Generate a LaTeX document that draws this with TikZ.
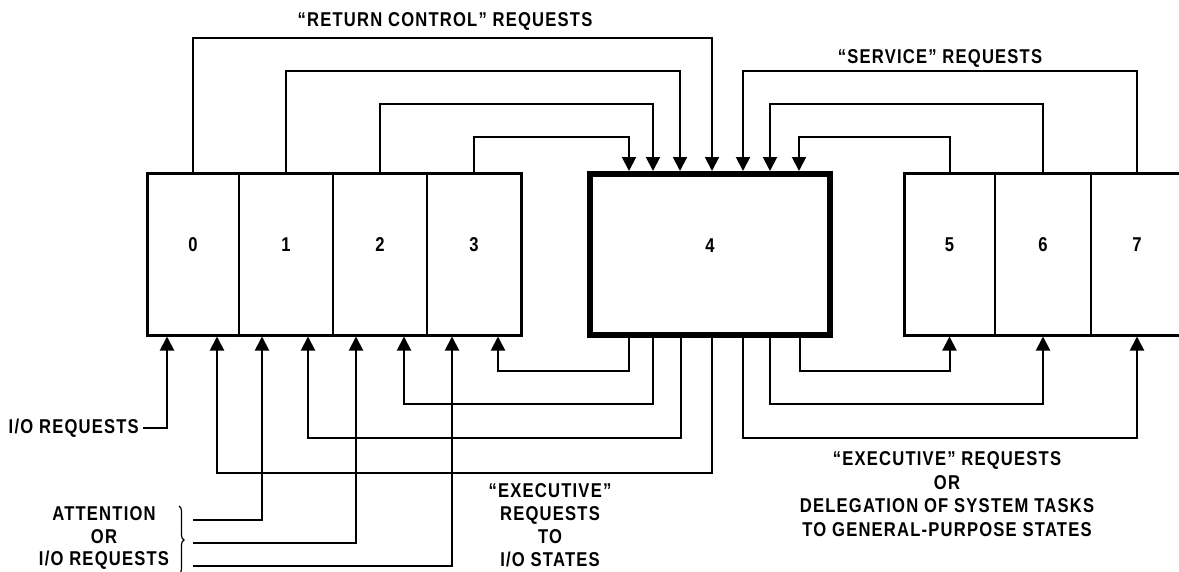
\documentclass[tikz,border=0pt]{standalone}
\usepackage{fontspec}
\setmainfont{Liberation Sans}[FakeStretch=0.83, LetterSpace=6]
\usetikzlibrary{arrows.meta,calc,decorations.pathreplacing}
\begin{document}
\begin{tikzpicture}[x=1pt,y=-1pt,
  lab/.style={font=\fontsize{20}{23.5}\selectfont\bfseries, align=center, inner sep=0pt},
  cell/.style={minimum height=162pt, inner sep=0pt, outer sep=0pt, text height=14pt, text depth=19pt,
    font=\fontsize{20}{22}\selectfont\bfseries},
  conn/.style={line width=2pt},
  arr/.style={conn,-{Triangle[width=14pt,length=14pt]}},
  boxline/.style={line width=3pt},
  thickbox/.style={line width=6pt},
  divider/.style={line width=1.3pt},
]
\useasboundingbox (0,0) rectangle (1179,571);
\clip (0,0) rectangle (1179,571);

% cells
\node[cell, minimum width=92pt] (s0) at (193,254) {0};
\node[cell, minimum width=94pt] (s1) at (286,254) {1};
\node[cell, minimum width=94pt] (s2) at (380,254) {2};
\node[cell, minimum width=94pt] (s3) at (474,254) {3};
\node[cell, minimum width=240pt, minimum height=161pt] (b4) at (710,254.5) {4};
\node[cell, minimum width=91pt] (s5) at (949.5,254) {5};
\node[cell, minimum width=96pt] (s6) at (1043,254) {6};
\node[cell, minimum width=92pt] (s7) at (1137,254) {7};

% outlines
\draw[boxline] (s0.north west) rectangle (s3.south east);
\foreach \c in {s0,s1,s2} \draw[divider] (\c.north east) -- (\c.south east);
\draw[thickbox] (b4.north west) rectangle (b4.south east);
\draw[boxline] (s7.north east) -- (s5.north west) -- (s5.south west) -- (s7.south east);
\foreach \c in {s5,s6} \draw[divider] (\c.north east) -- (\c.south east);

% inputs on top of 4
\coordinate (i3) at ([xshift=39pt,yshift=3pt]b4.north west);
\coordinate (i2) at ([xshift=63pt,yshift=3pt]b4.north west);
\coordinate (i1) at ([xshift=90pt,yshift=3pt]b4.north west);
\coordinate (i0) at ([xshift=122pt,yshift=3pt]b4.north west);
\coordinate (i7) at ([xshift=153pt,yshift=3pt]b4.north west);
\coordinate (i6) at ([xshift=180pt,yshift=3pt]b4.north west);
\coordinate (i5) at ([xshift=209pt,yshift=3pt]b4.north west);

% outputs under 4
\coordinate (o3) at ([xshift=39pt]b4.south west);
\coordinate (o2) at ([xshift=63pt]b4.south west);
\coordinate (o1) at ([xshift=91pt]b4.south west);
\coordinate (o0) at ([xshift=122pt]b4.south west);
\coordinate (o7) at ([xshift=153pt]b4.south west);
\coordinate (o6) at ([xshift=180pt]b4.south west);
\coordinate (o5) at ([xshift=210pt]b4.south west);

% arrow targets under the cells
\coordinate (a0a) at ([xshift=-26pt,yshift=-1.5pt]s0.south);
\coordinate (a0b) at ([xshift=24pt,yshift=-1.5pt]s0.south);
\coordinate (a1a) at ([xshift=-24pt,yshift=-1.5pt]s1.south);
\coordinate (a1b) at ([xshift=22pt,yshift=-1.5pt]s1.south);
\coordinate (a2a) at ([xshift=-24pt,yshift=-1.5pt]s2.south);
\coordinate (a2b) at ([xshift=24pt,yshift=-1.5pt]s2.south);
\coordinate (a3a) at ([xshift=-22pt,yshift=-1.5pt]s3.south);
\coordinate (a3b) at ([xshift=24pt,yshift=-1.5pt]s3.south);
\coordinate (a5) at ([yshift=-1.5pt]s5.south);
\coordinate (a6) at ([yshift=-1.5pt]s6.south);
\coordinate (a7) at ([yshift=-1.5pt]s7.south);

% "return control" and "service" requests
\draw[arr] (s0.north) -- ++(0,-135) -| (i0);
\draw[arr] (s1.north) -- ++(0,-102) -| (i1);
\draw[arr] (s2.north) -- ++(0,-69) -| (i2);
\draw[arr] (s3.north) -- ++(0,-36) -| (i3);
\draw[arr] (s5.north) -- ++(0,-36) -| (i5);
\draw[arr] (s6.north) -- ++(0,-69) -| (i6);
\draw[arr] (s7.north) -- ++(0,-102) -| (i7);

% executive requests
\draw[arr] (o3) -- ++(0,36) -| (a3b);
\draw[arr] (o2) -- ++(0,69) -| (a2b);
\draw[arr] (o1) -- ++(0,103) -| (a1b);
\draw[arr] (o0) -- ++(0,138) -| (a0b);
\draw[arr] (o5) -- ++(0,36) -| (a5);
\draw[arr] (o6) -- ++(0,69) -| (a6);
\draw[arr] (o7) -- ++(0,103) -| (a7);

% labels
\node[lab] (rc) at (445,21) {“RETURN CONTROL” REQUESTS};
\node[lab] (sv) at (940,58) {“SERVICE” REQUESTS};
\node[lab, anchor=east] (io) at (139,428) {I/O REQUESTS};
\draw[arr] ([xshift=4pt]io.east) -| (a0a);

\node[lab, font=\fontsize{20}{22.5}\selectfont\bfseries] (att) at (104,538) {ATTENTION\\OR\\I/O REQUESTS};
\draw[line width=1.2pt, decorate, decoration={brace, amplitude=5pt}] (179,506) -- (179,574);
\coordinate (r1) at (193,520);
\coordinate (r2) at (193,543);
\coordinate (r3) at (193,566);
\draw[arr] (r1) -| (a1a);
\draw[arr] (r2) -| (a2a);
\draw[arr] (r3) -| (a3a);

\node[lab, font=\fontsize{20}{23}\selectfont\bfseries] (exe) at (550,525) {“EXECUTIVE”\\REQUESTS\\TO\\I/O STATES};
\node[lab] (dele) at (947,494) {“EXECUTIVE” REQUESTS\\OR\\DELEGATION OF SYSTEM TASKS\\TO GENERAL-PURPOSE STATES};
\end{tikzpicture}
\end{document}
